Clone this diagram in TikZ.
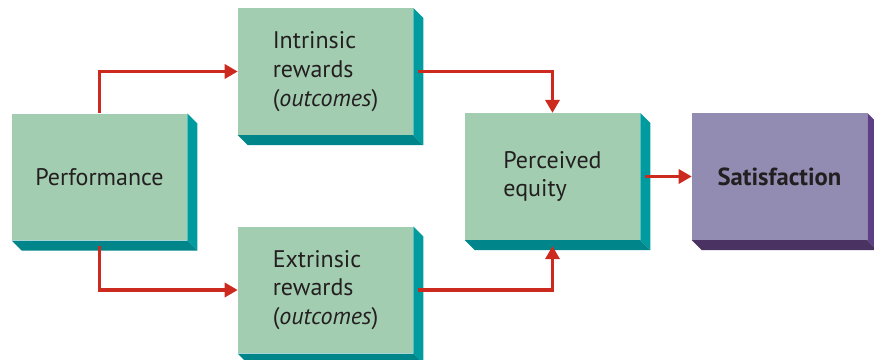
\documentclass[tikz,border=0pt]{standalone}
\usepackage{fontspec}
\setmainfont{PT Sans}
\usepackage{xcolor}
\definecolor{facegreen}{HTML}{A3CDB1}
\definecolor{sidegreen}{HTML}{009B9E}
\definecolor{basegreen}{HTML}{00868A}
\definecolor{facepurple}{HTML}{938CB2}
\definecolor{sidepurple}{HTML}{5C3F85}
\definecolor{basepurple}{HTML}{4A3262}
\definecolor{linkred}{HTML}{CC2A1F}
\definecolor{ink}{HTML}{231F20}
\usetikzlibrary{positioning,arrows.meta}
% side and bottom faces of a block
\newcommand{\extrude}[3]{%
  \fill[#2] (#1.north east) -- ++(10,10) -- ([shift={(10,10)}]#1.south east) -- (#1.south east) -- cycle;
  \fill[#3] (#1.south west) -- (#1.south east) -- ++(10,10) -- ([shift={(10,10)}]#1.south west) -- cycle;}
\begin{document}
\begin{tikzpicture}[x=0.75pt,y=-0.75pt,
  box/.style={fill=facegreen,text=ink,align=left,inner sep=0pt,
              minimum width=131.25pt,minimum height=95pt,
              font=\fontsize{18}{21.5}\selectfont},
  key/.style={box,fill=facepurple,font=\fontsize{18.5}{21.5}\selectfont\bfseries},
  arr/.style={-{Triangle[length=9.75pt,width=10.5pt]},color=linkred,line width=2.6pt}]
\useasboundingbox (0,0) rectangle (874,360);
\node[box] (perf) at (99.5,177) {Performance};
\node[box] (intr) at (325.5,71.5) {Intrinsic\\rewards\\(\textit{outcomes})};
\node[box] (extr) at (325.5,290) {Extrinsic\\rewards\\(\textit{outcomes})};
\node[box] (equity) at (552.5,176.5) {Perceived\\equity};
\node[key] (sat) at (779.5,176.5) {Satisfaction};
\extrude{perf}{sidegreen}{basegreen}
\extrude{intr}{sidegreen}{basegreen}
\extrude{extr}{sidegreen}{basegreen}
\extrude{equity}{sidegreen}{basegreen}
\extrude{sat}{sidepurple}{basepurple}
\draw[arr] (perf.north) |- (intr.west);
\draw[arr] ([yshift=-3.75pt]perf.south) |- (extr.west);
\draw[arr] ([xshift=3.75pt]intr.east) -| (equity.north);
\draw[arr] ([xshift=3.75pt]extr.east) -| ([yshift=-4.5pt]equity.south);
\draw[arr] ([xshift=3.75pt]equity.east) -- (sat.west);
\end{tikzpicture}
\end{document}
